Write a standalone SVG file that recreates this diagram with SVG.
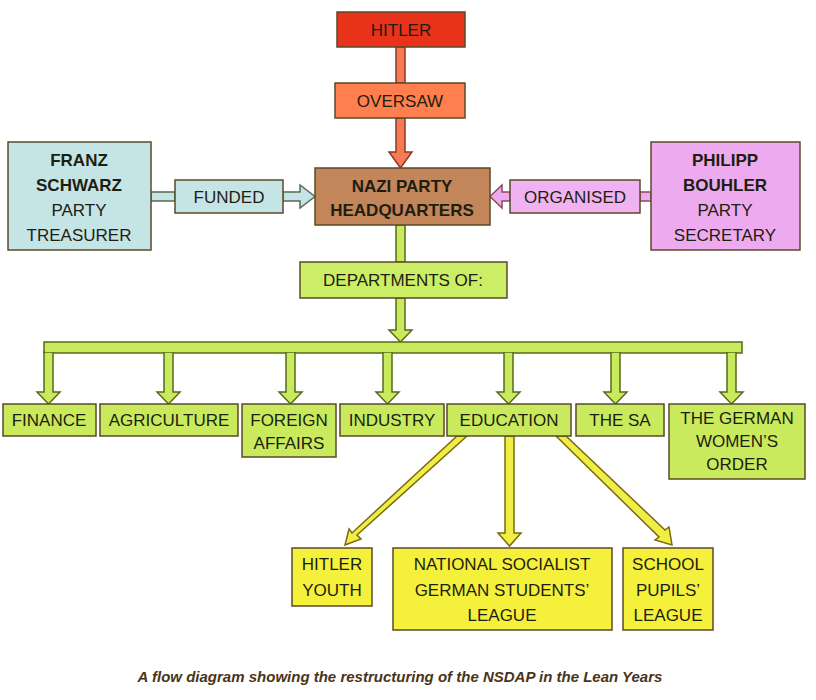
<svg xmlns="http://www.w3.org/2000/svg" width="816" height="700" viewBox="0 0 816 700">
<style>
.b{stroke:#5b4a2a;stroke-width:1.5}
.t{font-family:"Liberation Sans",Arial,sans-serif;font-size:17px;fill:#1e1e10;text-anchor:middle}
.tb{font-weight:bold}
.ag{fill:#c8ea5c;stroke:#556b1a;stroke-width:1.5}
.ay{fill:#f0ee44;stroke:#7a6a10;stroke-width:1.5}
.ao{fill:#f57a55;stroke:#8a3a20;stroke-width:1.5}
.ab{fill:#c5e4e8;stroke:#5a6a50;stroke-width:1.5}
.ap{fill:#eeaaee;stroke:#8a4a5a;stroke-width:1.5}
</style>
<g id="connectors">
<rect class="ao" x="396" y="47" width="9" height="36"/>
<polygon class="ao" points="396,118 405,118 405,152 412,152 400.5,168 389,152 396,152"/>
<rect class="ab" x="151" y="192" width="24" height="9"/>
<polygon class="ab" points="283,192 300,192 300,185 315,196.5 300,208 300,201 283,201"/>
<rect class="ap" x="640" y="192" width="11" height="9"/>
<polygon class="ap" points="510,192 502,192 502,185 490,196.5 502,208 502,201 510,201"/>
<rect class="ag" x="396" y="225" width="9" height="37"/>
<polygon class="ag" points="396,298 405,298 405,330 412,330 400.5,342 389,330 396,330"/>
<rect class="ag" x="44" y="342" width="698" height="11"/>
<g id="drops">
<polygon class="ag" points="44,352 53,352 53,392 60,392 48.5,404 37,392 44,392"/>
<polygon class="ag" points="164,352 173,352 173,392 180,392 168.5,404 157,392 164,392"/>
<polygon class="ag" points="286,352 295,352 295,392 302,392 290.5,404 279,392 286,392"/>
<polygon class="ag" points="383,352 392,352 392,392 399,392 387.5,404 376,392 383,392"/>
<polygon class="ag" points="504,352 513,352 513,392 520,392 508.5,404 497,392 504,392"/>
<polygon class="ag" points="611,352 620,352 620,392 627,392 615.5,404 604,392 611,392"/>
<polygon class="ag" points="727,352 736,352 736,392 743,392 731.5,404 720,392 727,392"/>
</g>
<rect x="45" y="343" width="696" height="9" fill="#c8ea5c"/>
<polygon class="ay" points="457,436 467,436 357,535 361,539 345,545 349,529 352,533"/>
<polygon class="ay" points="505,436 514,436 514,533 521,533 509.5,546 498,533 505,533"/>
<polygon class="ay" points="556,436 566,436 665,530 669,527 672,545 655,540 659,537"/>
</g>
<g id="hitler"><rect class="b" x="337" y="12" width="128" height="35" fill="#e8321a"/><text class="t" x="401" y="36">HITLER</text></g>
<g id="oversaw"><rect class="b" x="335" y="83" width="130" height="35" fill="#ff7f4f"/><text class="t" x="400" y="107">OVERSAW</text></g>
<g id="hq"><rect class="b" x="315" y="168" width="175" height="57" fill="#c3855a"/><text class="t tb" x="402" y="192">NAZI PARTY</text><text class="t tb" x="402" y="216">HEADQUARTERS</text></g>
<g id="franz"><rect class="b" x="8" y="142" width="143" height="108" fill="#c5e4e6"/><text class="t tb" x="79" y="166">FRANZ</text><text class="t tb" x="79" y="191">SCHWARZ</text><text class="t" x="79" y="216">PARTY</text><text class="t" x="79" y="241">TREASURER</text></g>
<g id="funded"><rect class="b" x="175" y="180" width="108" height="33" fill="#c5e4e6"/><text class="t" x="229" y="203">FUNDED</text></g>
<g id="organised"><rect class="b" x="510" y="180" width="130" height="33" fill="#f0b2f0"/><text class="t" x="575" y="203">ORGANISED</text></g>
<g id="philipp"><rect class="b" x="651" y="142" width="149" height="108" fill="#eeaaee"/><text class="t tb" x="725" y="166">PHILIPP</text><text class="t tb" x="725" y="191">BOUHLER</text><text class="t" x="725" y="216">PARTY</text><text class="t" x="725" y="241">SECRETARY</text></g>
<g id="departments"><rect class="b" x="300" y="262" width="207" height="36" fill="#ccee66"/><text class="t" x="403" y="286">DEPARTMENTS OF:</text></g>
<g id="finance"><rect class="b" x="3" y="404" width="93" height="32" fill="#c8ea5c"/><text class="t" x="49" y="426">FINANCE</text></g>
<g id="agriculture"><rect class="b" x="100" y="404" width="138" height="32" fill="#c8ea5c"/><text class="t" x="169" y="426">AGRICULTURE</text></g>
<g id="foreign"><rect class="b" x="242" y="404" width="94" height="53" fill="#c8ea5c"/><text class="t" x="289" y="426">FOREIGN</text><text class="t" x="289" y="449">AFFAIRS</text></g>
<g id="industry"><rect class="b" x="340" y="404" width="104" height="32" fill="#c8ea5c"/><text class="t" x="392" y="426">INDUSTRY</text></g>
<g id="education"><rect class="b" x="447" y="404" width="124" height="32" fill="#c8ea5c"/><text class="t" x="509" y="426">EDUCATION</text></g>
<g id="sa"><rect class="b" x="576" y="404" width="88" height="32" fill="#c8ea5c"/><text class="t" x="620" y="426">THE SA</text></g>
<g id="women"><rect class="b" x="669" y="404" width="136" height="75" fill="#c8ea5c"/><text class="t" x="737" y="424">THE GERMAN</text><text class="t" x="737" y="447">WOMEN’S</text><text class="t" x="737" y="470">ORDER</text></g>
<g id="hitleryouth"><rect class="b" x="292" y="548" width="80" height="58" fill="#f5f03c"/><text class="t" x="332" y="570">HITLER</text><text class="t" x="332" y="596">YOUTH</text></g>
<g id="nsgsl"><rect class="b" x="393" y="548" width="219" height="82" fill="#f5f03c"/><text class="t" x="502" y="570">NATIONAL SOCIALIST</text><text class="t" x="502" y="596">GERMAN STUDENTS’</text><text class="t" x="502" y="621">LEAGUE</text></g>
<g id="school"><rect class="b" x="623" y="548" width="90" height="82" fill="#f5f03c"/><text class="t" x="668" y="570">SCHOOL</text><text class="t" x="668" y="596">PUPILS’</text><text class="t" x="668" y="621">LEAGUE</text></g>
<text x="400" y="682" style="font-family:'Liberation Sans',Arial,sans-serif;font-size:15px;font-weight:bold;font-style:italic;fill:#4a3418;text-anchor:middle">A flow diagram showing the restructuring of the NSDAP in the Lean Years</text>
</svg>
